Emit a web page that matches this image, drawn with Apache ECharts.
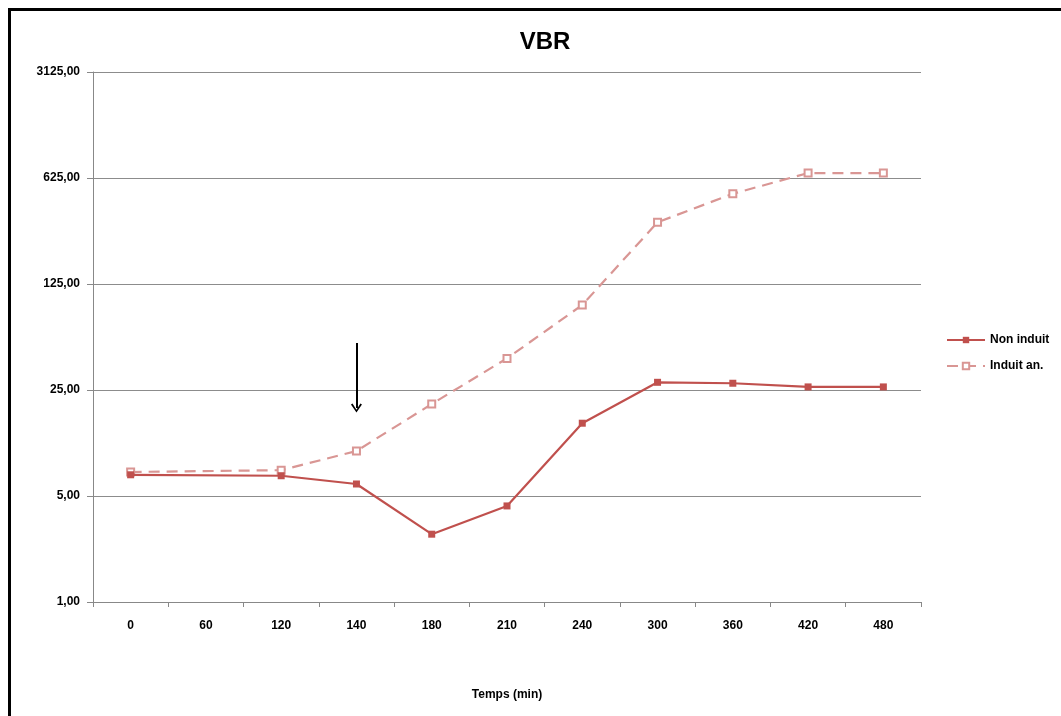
<!DOCTYPE html>
<html>
<head>
<meta charset="utf-8">
<title>VBR</title>
<script src="https://cdn.jsdelivr.net/npm/echarts@6/dist/echarts.min.js"></script>
<style>
  html, body { margin: 0; padding: 0; background: #fff; }
  #vbr { width: 1061px; height: 716px; }
</style>
</head>
<body>
<div id="vbr"></div>
<script>
// temps (min)
const temps = ["0", "60", "120", "140", "180", "210", "240", "300", "360", "420", "480"];
const nonInduit = [6.9, null, 6.8, 6.0, 2.8, 4.3, 15.1, 28.1, 27.7, 26.2, 26.2];
const induitAn = [7.2, null, 7.4, 9.9, 20.2, 40.4, 90.9, 319, 492, 674, 674];
// fleche d'induction a 140 min
const induction = { temps: "140", haut: 51, bas: 19 };

const police = "'Liberation Sans', Arial, sans-serif";

const myChart = echarts.init(document.getElementById("vbr"));
const option = {
  animation: false,
  backgroundColor: "#fff",
  title: {
    text: "VBR",
    left: 540,
    textAlign: "center",
    top: 25,
    textStyle: { fontFamily: police, fontSize: 24, fontWeight: "bold", color: "#000" }
  },
  // cadre noir (haut et gauche)
  graphic: [
    { type: "rect", shape: { x: 8, y: 8, width: 1053, height: 3 }, style: { fill: "#000" } },
    { type: "rect", shape: { x: 8, y: 8, width: 3, height: 708 }, style: { fill: "#000" } }
  ],
  legend: {
    orient: "vertical",
    left: 941,
    top: 329,
    itemGap: 14,
    itemWidth: 38,
    itemHeight: 8,
    textStyle: { fontFamily: police, fontSize: 12, fontWeight: "bold", color: "#000" },
    data: ["Non induit", "Induit an."]
  },
  grid: { left: 93, right: 140, top: 72, bottom: 114 },
  xAxis: {
    type: "category",
    data: temps,
    name: "Temps (min)",
    nameLocation: "middle",
    nameGap: 87,
    nameTextStyle: { fontFamily: police, fontSize: 12, fontWeight: "bold", color: "#000" },
    axisLine: { lineStyle: { color: "#888" } },
    axisTick: { show: true, length: 5, lineStyle: { color: "#888" } },
    axisLabel: { fontFamily: police, fontSize: 12, fontWeight: "bold", color: "#000", margin: 18 }
  },
  yAxis: {
    type: "log",
    logBase: 5,
    min: 1,
    max: 3125,
    splitNumber: 5,
    axisLine: { show: true, lineStyle: { color: "#888" } },
    axisTick: { show: true, length: 6, lineStyle: { color: "#888" } },
    splitLine: { lineStyle: { color: "#8c8c8c" } },
    axisLabel: {
      fontFamily: police, fontSize: 12, fontWeight: "bold", color: "#000", margin: 13,
      formatter: function (v) { return v.toFixed(2).replace(".", ","); }
    }
  },
  series: [
    {
      name: "Non induit",
      type: "line",
      data: nonInduit,
      connectNulls: true,
      symbol: "rect",
      symbolSize: 7,
      itemStyle: { color: "#c0504d" },
      lineStyle: { width: 2.2, color: "#c0504d" },
      z: 3,
      markLine: {
        silent: true,
        // pointe ouverte comme dans Excel
        symbol: ["none", "path://M0,10 L5,0 L10,10 L8.6,11 L5,3.6 L1.4,11 Z"],
        symbolSize: [11, 9],
        label: { show: false },
        lineStyle: { color: "#000", width: 2, type: "solid" },
        data: [[
          { coord: [induction.temps, induction.haut] },
          { coord: [induction.temps, induction.bas] }
        ]]
      }
    },
    {
      name: "Induit an.",
      type: "line",
      data: induitAn,
      connectNulls: true,
      symbol: "emptyRect",
      symbolSize: 7,
      itemStyle: { color: "#d99694", borderColor: "#d99694", borderWidth: 1 },
      lineStyle: { width: 2.2, color: "#d99694", type: [11, 7] },
      z: 2
    }
  ]
};
myChart.setOption(option);
</script>
</body>
</html>
